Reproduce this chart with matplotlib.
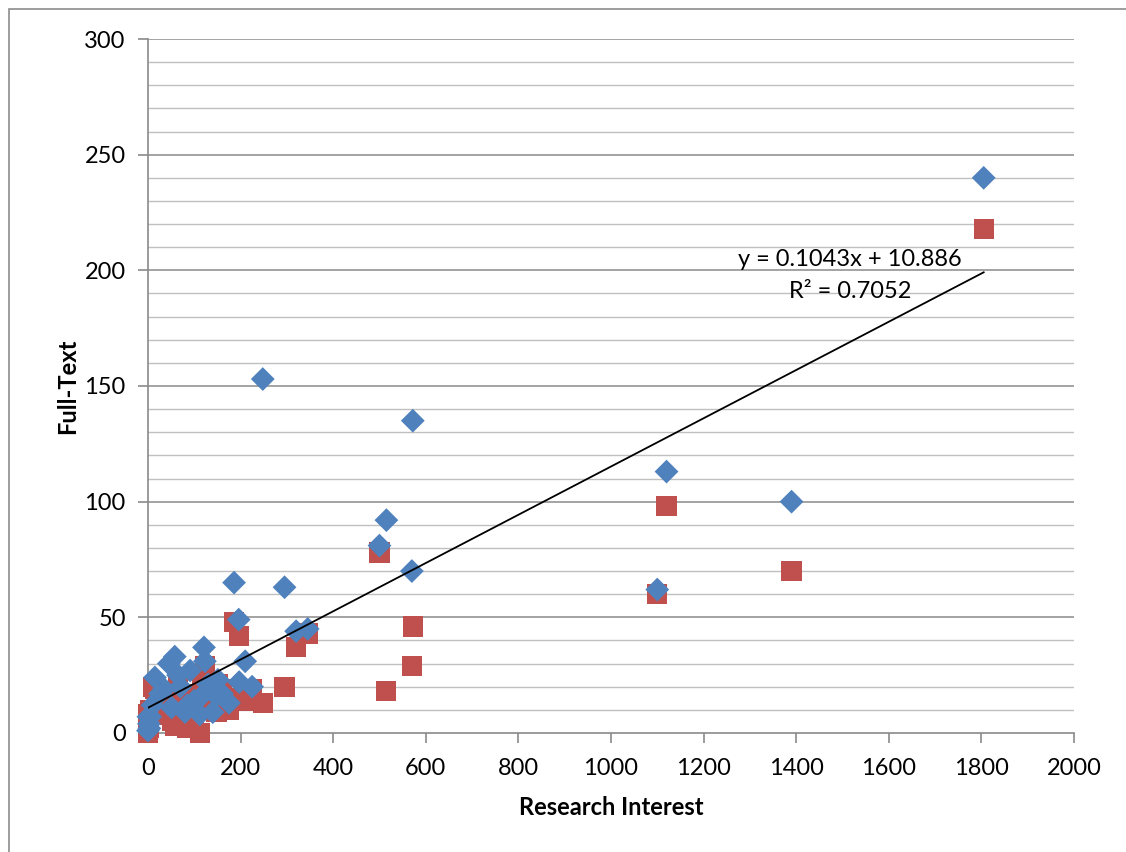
import matplotlib
matplotlib.use("Agg")
import matplotlib.pyplot as plt
from matplotlib.patches import Rectangle
import numpy as np

# Research interest (shared x values)
research_interest = [1805, 1390, 1120, 1100, 572, 570, 515, 500, 345, 320, 295, 248,
                     225, 210, 196, 186, 197, 175, 151, 148, 140, 123, 121, 116, 112,
                     91, 80, 65, 58, 51, 45, 26, 15, 10, 5, 1, 0, 2, 3, 70, 100, 130,
                     35, 160, 85]
# Series 1 (blue diamonds)
full_text_blue = [240, 100, 113, 62, 135, 70, 92, 81, 45, 44, 63, 153,
                  20, 31, 49, 65, 22, 13, 23, 16, 9, 31, 37, 16, 8,
                  27, 9, 25, 33, 11, 30, 17, 24, 12, 7, 7, 1, 4, 2, 20, 14, 21,
                  19, 17, 12]
# Series 2 (red squares)
full_text_red = [218, 70, 98, 60, 46, 29, 18, 78, 43, 37, 20, 13,
                 19, 14, 42, 48, 15, 10, 21, 9, 13, 29, 25, 20, 0,
                 17, 12, 21, 3, 5, 14, 8, 19, 20, 10, 8, 0, 2, 6, 4, 6, 14,
                 11, 19, 2]

trend_slope = 0.1043
trend_intercept = 10.886
trend_label = "y = 0.1043x + 10.886"
r2_label = "R² = 0.7052"

x_ticks = [0, 200, 400, 600, 800, 1000, 1200, 1400, 1600, 1800, 2000]
y_ticks = [0, 50, 100, 150, 200, 250, 300]

plt.rcParams['font.family'] = ['Lato', 'DejaVu Sans']

fig = plt.figure(figsize=(11.26, 8.52), dpi=100)
ax = fig.add_axes([0.1314, 0.1397, 0.8224, 0.8145])

# outer chart border (left and top visible)
fig.patches.append(Rectangle((9 / 1126, -0.2), 1.5, 0.2 + (852 - 9) / 852,
                             transform=fig.transFigure, fill=False,
                             edgecolor='#8c8c8c', linewidth=1.2, zorder=0))

ax.set_xlim(0, 2000)
ax.set_ylim(0, 300)

# gridlines
for y in range(10, 301, 10):
    major = (y % 50 == 0)
    ax.axhline(y, color='#8a8a8a' if major else '#c0c0c0',
               linewidth=1.1 if major else 1.0, zorder=1)

for s in ['top', 'right']:
    ax.spines[s].set_visible(False)
for s in ['left', 'bottom']:
    ax.spines[s].set_color('#8a8a8a')
    ax.spines[s].set_linewidth(1.2)

ax.set_xticks(x_ticks)
ax.set_yticks(y_ticks)
ax.set_xticklabels([str(v) for v in x_ticks])
ax.set_yticklabels([str(v) for v in y_ticks])
ax.tick_params(axis='both', direction='out', length=7, width=1.2,
               color='#8a8a8a', labelsize=17, labelcolor='black')
ax.tick_params(axis='x', pad=11)
ax.tick_params(axis='y', pad=9)

ax.scatter(research_interest, full_text_blue, marker='D', s=14 ** 2 * 0.75,
           color='#4F81BD', edgecolors='none', zorder=4, clip_on=False)
ax.scatter(research_interest, full_text_red, marker='s', s=14.5 ** 2,
           color='#C0504D', edgecolors='none', zorder=3, clip_on=False)

xs = np.array([min(research_interest), max(research_interest)])
ax.plot(xs, trend_slope * xs + trend_intercept, color='black', linewidth=1.3, zorder=5)

ax.text(1516, 204.5, trend_label, ha='center', va='center', fontsize=17, zorder=6)
ax.text(1516, 191.0, r2_label, ha='center', va='center', fontsize=17, zorder=6)

ax.set_xlabel('Research Interest', fontsize=17, fontweight='bold', labelpad=12)
ax.set_ylabel('Full-Text', fontsize=17, fontweight='bold', labelpad=4)

fig.savefig('out.png', dpi=100)
